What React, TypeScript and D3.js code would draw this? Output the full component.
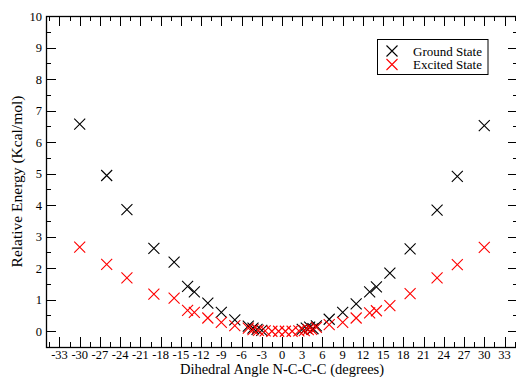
import React from 'react';
import * as d3 from 'd3';

// dihedral angle (deg) and relative energy (kcal/mol)
const groundAngle = [-30, -26, -23, -19, -16, -14, -13, -11, -9, -7, -5, -4.3, -3.7, -3, 3, 3.6, 4.1, 4.6, 5.1, 7, 9, 11, 13, 14, 16, 19, 23, 26, 30];
const groundEnergy = [6.57, 4.94, 3.86, 2.63, 2.19, 1.42, 1.25, 0.89, 0.6, 0.36, 0.16, 0.1, 0.06, 0.03, 0.06, 0.1, 0.13, 0.08, 0.17, 0.38, 0.6, 0.87, 1.25, 1.41, 1.84, 2.61, 3.84, 4.91, 6.52];

const excitedAngle = [-30, -26, -23, -19, -16, -14, -13, -11, -9, -7, -5, -4.3, -3.5, -2.5, -1.5, -0.5, 0.5, 1.5, 2.5, 3.3, 3.9, 4.4, 5.1, 7, 9, 11, 13, 14, 16, 19, 23, 26, 30];
const excitedEnergy = [2.67, 2.12, 1.69, 1.18, 1.05, 0.66, 0.6, 0.42, 0.28, 0.18, 0.1, 0.05, 0.03, 0.01, 0, 0, 0, 0, 0.01, 0.02, 0.05, 0.06, 0.12, 0.21, 0.28, 0.42, 0.58, 0.65, 0.81, 1.19, 1.69, 2.11, 2.66];

const xMajor = d3.range(-33, 34, 3);
const xMinor = d3.range(-34.5, 35, 1.5);
const yMajor = d3.range(0, 11, 1);
const yMinor = d3.range(-0.5, 10.01, 0.5);

const W = 516;
const H = 377;
const left = 46, right = 518, top = 16, bottom = 347;
const serif = "'Liberation Serif', 'Times New Roman', Times, serif";
const tickTxt: React.CSSProperties = { fontFamily: serif, fontSize: '12.5px' };
const titleTxt: React.CSSProperties = { fontFamily: serif, fontSize: '14.5px' };
const yTitleTxt: React.CSSProperties = { fontFamily: serif, fontSize: '15.5px' };
const legendTxt: React.CSSProperties = { fontFamily: serif, fontSize: '13px' };

const Cross: React.FC<{ cx: number; cy: number; color: string }> = ({ cx, cy, color }) => {
    const s = 5.5;
    return (
        <path d={`M${cx - s},${cy - s}L${cx + s},${cy + s}M${cx - s},${cy + s}L${cx + s},${cy - s}`}
            stroke={color} strokeWidth={1.1} fill="none" />
    );
};

const App: React.FC = () => {
    const x = d3.scaleLinear().domain([-35, 35]).range([left, right]);
    const y = d3.scaleLinear().domain([-0.5, 10]).range([bottom, top]);

    return (
        <svg width={W} height={H} style={{ position: 'absolute', left: 0, top: 0, background: '#fff' }}>
            <rect x={0} y={0} width={W} height={H} fill="#fff" />
            {/* ticks, mirrored on all four sides */}
            <g stroke="#000" strokeWidth={1}>
                {xMinor.map(v => {
                    const major = Math.abs((v / 3) - Math.round(v / 3)) < 1e-6;
                    const len = major ? 10 : 5;
                    const px = Math.round(x(v)) + 0.5;
                    return (
                        <g key={'x' + v}>
                            <line x1={px} x2={px} y1={bottom} y2={bottom - len} />
                            <line x1={px} x2={px} y1={top} y2={top + len} />
                        </g>
                    );
                })}
                {yMinor.map(v => {
                    const major = Math.abs(v - Math.round(v)) < 1e-6;
                    const len = major ? 10 : 5;
                    const py = Math.round(y(v)) + 0.5;
                    return (
                        <g key={'y' + v}>
                            <line x1={left} x2={left + len} y1={py} y2={py} />
                            <line x1={right} x2={right - len} y1={py} y2={py} />
                        </g>
                    );
                })}
            </g>
            <rect x={left + 0.5} y={top + 0.5} width={right - left} height={bottom - top} fill="none" stroke="#000" strokeWidth={1.3} />

            {/* tick labels */}
            <g fill="#000">
                {xMajor.map(v => (
                    <text key={'xl' + v} x={x(v)} y={358.5} textAnchor="middle" style={tickTxt}>{v}</text>
                ))}
                {yMajor.map(v => (
                    <text key={'yl' + v} x={42} y={y(v) + 4.5} textAnchor="end" style={tickTxt}>{v}</text>
                ))}
            </g>

            {/* axis titles */}
            <text x={x(0)} y={373.5} textAnchor="middle" style={titleTxt}>Dihedral Angle N-C-C-C (degrees)</text>
            <text transform={`translate(22,${(top + bottom) / 2}) rotate(-90)`} textAnchor="middle" style={yTitleTxt}>Relative Energy (Kcal/mol)</text>

            {/* data */}
            <g>
                {groundAngle.map((a, i) => (
                    <Cross key={'g' + i} cx={x(a)} cy={y(groundEnergy[i])} color="#000" />
                ))}
                {excitedAngle.map((a, i) => (
                    <Cross key={'e' + i} cx={x(a)} cy={y(excitedEnergy[i])} color="#ff0000" />
                ))}
            </g>

            {/* legend */}
            <g>
                <rect x={377.5} y={39.5} width={110.5} height={35} fill="#fff" stroke="#000" strokeWidth={1} />
                <Cross cx={392} cy={51} color="#000" />
                <Cross cx={392} cy={64.5} color="#ff0000" />
                <text x={413} y={55.5} style={legendTxt}>Ground State</text>
                <text x={413} y={69} style={legendTxt}>Excited State</text>
            </g>
        </svg>
    );
};

export default App;
